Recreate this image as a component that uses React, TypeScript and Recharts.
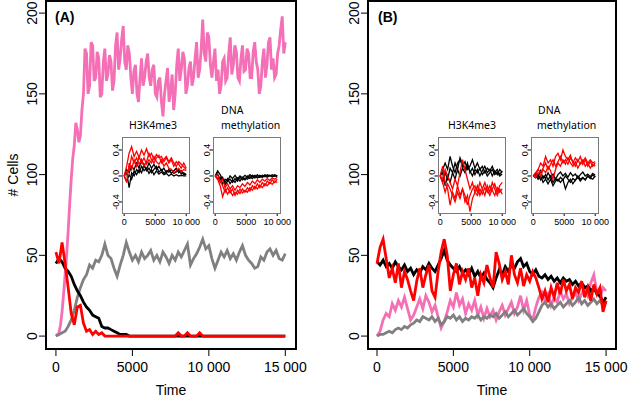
// Two-panel stochastic simulation figure: cell counts over time, with small
// H3K4me3 / DNA methylation insets. R-style frames and rotated y tick labels.
import { Line, LineChart, XAxis, YAxis } from "recharts";

const FONT = "'Liberation Sans', Arial, sans-serif";
const TITLE_FONT = "'Noto Sans', sans-serif";

const PINK = "#F46FB5";
const GREY = "#808080";
const RED = "#FF0000";
const BLACK = "#000000";

// ---- main panels ----
const mainTimes = [
  0, 200, 400, 600, 800, 1000, 1200, 1400, 1600, 1800,
  2000, 2200, 2400, 2600, 2800, 3000, 3200, 3400, 3600, 3800,
  4000, 4200, 4400, 4600, 4800, 5000, 5200, 5400, 5600, 5800,
  6000, 6200, 6400, 6600, 6800, 7000, 7200, 7400, 7600, 7800,
  8000, 8200, 8400, 8600, 8800, 9000, 9200, 9400, 9600, 9800,
  10000, 10200, 10400, 10600, 10800, 11000, 11200, 11400, 11600, 11800,
  12000, 12200, 12400, 12600, 12800, 13000, 13200, 13400, 13600, 13800,
  14000, 14200, 14400, 14600, 14800, 15000,
];

// pink in (A) is the noisiest trace, read at a finer step
const pinkTimesA = [
  0, 100, 200, 300, 400, 500, 600, 700, 800, 900,
  1000, 1100, 1200, 1300, 1400, 1500, 1600, 1700, 1800, 1900,
  2000, 2100, 2200, 2300, 2400, 2500, 2600, 2700, 2800, 2900,
  3000, 3100, 3200, 3300, 3400, 3500, 3600, 3700, 3800, 3900,
  4000, 4100, 4200, 4300, 4400, 4500, 4600, 4700, 4800, 4900,
  5000, 5100, 5200, 5300, 5400, 5500, 5600, 5700, 5800, 5900,
  6000, 6100, 6200, 6300, 6400, 6500, 6600, 6700, 6800, 6900,
  7000, 7100, 7200, 7300, 7400, 7500, 7600, 7700, 7800, 7900,
  8000, 8100, 8200, 8300, 8400, 8500, 8600, 8700, 8800, 8900,
  9000, 9100, 9200, 9300, 9400, 9500, 9600, 9700, 9800, 9900,
  10000, 10100, 10200, 10300, 10400, 10500, 10600, 10700, 10800, 10900,
  11000, 11100, 11200, 11300, 11400, 11500, 11600, 11700, 11800, 11900,
  12000, 12100, 12200, 12300, 12400, 12500, 12600, 12700, 12800, 12900,
  13000, 13100, 13200, 13300, 13400, 13500, 13600, 13700, 13800, 13900,
  14000, 14100, 14200, 14300, 14400, 14500, 14600, 14700, 14800, 14900,
  15000,
];
const pinkA = [
  0, 1, 2, 7, 15, 26, 38, 50, 65, 82,
  97, 110, 118, 132, 128, 120, 124, 140, 150, 178,
  175, 150, 155, 182, 180, 158, 160, 176, 172, 148,
  150, 170, 178, 158, 162, 174, 170, 152, 158, 180,
  188, 165, 172, 184, 192, 170, 165, 180, 175, 160,
  150, 164, 168, 150, 145, 160, 172, 155, 160, 170,
  175, 160, 155, 165, 168, 150, 148, 158, 160, 145,
  136, 150, 158, 166, 145, 152, 162, 140, 150, 168,
  178, 158, 165, 176, 172, 150, 155, 166, 170, 155,
  160, 172, 182, 160, 165, 178, 196, 175, 170, 188,
  185, 168, 160, 170, 178, 158, 165, 150, 155, 170,
  172, 158, 160, 175, 185, 162, 168, 180, 176, 160,
  158, 172, 180, 164, 165, 178, 175, 160, 160, 176,
  182, 170, 165, 150, 155, 170, 178, 160, 168, 182,
  185, 165, 172, 160, 162, 175, 180, 190, 198, 175,
  182,
];
const greyA = [
  0, 1, 2, 3, 6, 10, 16, 24, 30, 35,
  38, 44, 42, 47, 46, 50, 57, 50, 48, 42,
  37, 44, 50, 58, 52, 47, 50, 46, 52, 48,
  50, 53, 47, 50, 46, 52, 49, 45, 50, 47,
  52, 49, 53, 57, 44, 48, 51, 55, 60, 54,
  56, 48, 42, 47, 52, 49, 53, 48, 51, 47,
  52, 56, 50, 47, 45, 42, 43, 49, 47, 52,
  54, 50, 53, 48, 47, 51,
];
const blackA = [
  45, 48, 46, 42, 40, 37, 32, 28, 25, 21,
  18, 16, 13, 12, 11, 6, 5, 5, 4, 3,
  2, 1, 1, 1, 0, 0, 0, 0, 0, 0,
  0, 0, 0, 0, 0, 0, 0, 0, 0, 0,
  0, 0, 0, 0, 0, 0, 0, 0, 0, 0,
  0, 0, 0, 0, 0, 0, 0, 0, 0, 0,
  0, 0, 0, 0, 0, 0, 0, 0, 0, 0,
  0, 0, 0, 0, 0, 0,
];
const redA = [
  52, 45, 58, 45, 30, 14, 7, 18, 19, 8,
  3, 4, 1, 3, 1, 2, 0, 0, 0, 0,
  0, 0, 0, 0, 0, 0, 0, 0, 0, 0,
  0, 0, 0, 0, 0, 0, 0, 0, 0, 0,
  2, 0, 0, 2, 0, 0, 0, 2, 0, 0,
  0, 0, 0, 0, 0, 0, 0, 0, 0, 0,
  0, 0, 0, 0, 0, 0, 0, 0, 0, 0,
  0, 0, 0, 0, 0, 0,
];

const pinkB = [
  0, 3, 10, 14, 12, 20, 16, 22, 18, 24,
  17, 10, 13, 18, 23, 17, 25, 21, 15, 19,
  12, 5, 9, 15, 22, 18, 27, 19, 23, 14,
  20, 16, 22, 13, 18, 11, 17, 12, 16, 10,
  15, 19, 13, 17, 21, 14, 18, 25, 16, 22,
  13, 10, 18, 24, 27, 22, 26, 19, 24, 21,
  28, 23, 26, 20, 24, 27, 22, 26, 30, 25,
  33, 38, 27, 24, 30, 28,
];
const greyB = [
  0, 1, 1, 2, 3, 2, 4, 5, 4, 6,
  5, 7, 8, 10, 9, 12, 11, 10, 12, 9,
  11, 7, 9, 12, 11, 13, 10, 12, 9, 11,
  10, 12, 11, 13, 10, 12, 11, 13, 12, 14,
  11, 13, 15, 12, 14, 16, 13, 15, 17, 14,
  12, 9, 11, 15, 19, 21, 18, 20, 17, 19,
  21, 18, 20, 22, 19, 21, 24, 20, 22, 19,
  21, 23, 20, 22, 19, 21,
];
const blackB = [
  46, 44, 47, 43, 45, 42, 46, 43, 41, 44,
  40, 42, 38, 41, 39, 43, 41, 45, 42, 40,
  44, 48, 53, 47, 44, 42, 40, 43, 39, 41,
  38, 42, 37, 40, 36, 39, 35, 33, 30, 36,
  41, 38, 43, 40, 44, 42, 46, 48, 43, 45,
  40, 38, 41, 37, 36, 38, 35, 37, 34, 36,
  33, 36, 34, 35, 32, 34, 31, 33, 30, 31,
  28, 30, 26, 25, 21, 24,
];
const redB = [
  45, 55, 60, 48, 36, 42, 33, 45, 30, 40,
  35, 28, 22, 34, 42, 30, 38, 44, 28, 24,
  40, 52, 60, 50, 28, 38, 45, 32, 40, 35,
  42, 30, 36, 25, 38, 33, 44, 36, 30, 52,
  45, 35, 40, 32, 50, 38, 33, 42, 31, 38,
  34, 40, 36, 30, 23, 28, 21, 30, 24, 33,
  26, 35, 28, 32, 23, 30, 27, 34, 24, 30,
  22, 32, 26, 30, 15, 22,
];

const xTicks = [0, 5000, 10000, 15000];
const xTickLabels = ["0", "5000", "10 000", "15 000"];
const yTicks = [0, 50, 100, 150, 200];
const yTickLabels = ["0", "50", "100", "150", "200"];

// ---- insets ----
const insetTimes = [
  0, 400, 800, 1200, 1600, 2000, 2400, 2800, 3200, 3600, 4000, 4400, 4800,
  5200, 5600, 6000, 6400, 6800, 7200, 7600, 8000, 8400, 8800, 9200, 9600, 10000,
];
const insetXTicks = [0, 5000, 10000];
const insetXTickLabels = ["0", "5000", "10 000"];
const insetYTicks = [-0.4, 0, 0.4];
const insetYTickLabels = ["-0.4", "0.0", "0.4"];

// A: H3K4me3
const a1Red1 = [0, 0.15, 0.35, 0.45, 0.3, 0.38, 0.28, 0.4, 0.32, 0.42, 0.3, 0.35, 0.25,
  0.33, 0.28, 0.3, 0.22, 0.28, 0.2, 0.25, 0.15, 0.22, 0.18, 0.12, 0.2, 0.12];
const a1Red2 = [0, -0.1, 0.2, 0.1, 0.25, 0.15, 0.3, 0.2, 0.28, 0.18, 0.25, 0.2, 0.3,
  0.22, 0.18, 0.25, 0.15, 0.2, 0.12, 0.1, 0.05, 0.08, 0.12, 0.06, 0.1, 0.08];
const a1Red3 = [0, 0.05, 0.1, 0.3, 0.2, 0.28, 0.18, 0.25, 0.15, 0.22, 0.35, 0.25, 0.2,
  0.28, 0.32, 0.2, 0.26, 0.3, 0.22, 0.28, 0.2, 0.15, 0.22, 0.18, 0.14, 0.1];
const a1Black1 = [0, 0.05, -0.18, 0.05, 0, 0.1, 0.05, 0.15, 0.08, 0.12, 0.04, 0.1, 0.02,
  0.08, 0.03, 0.06, 0.02, 0.04, 0, 0.03, 0, 0.02, 0, 0.01, 0, 0];
const a1Black2 = [0, 0.1, 0.05, 0.15, 0.1, 0.2, 0.12, 0.25, 0.15, 0.1, 0.2, 0.12, 0.18,
  0.1, 0.15, 0.08, 0.12, 0.05, 0.1, 0.04, 0.08, 0.12, 0.05, 0.08, 0.02, 0.03];
const a1Black3 = [0, -0.08, 0.02, -0.05, 0.08, 0.02, 0.1, 0.05, 0.18, 0.08, 0.12, 0.05, 0.1,
  0.15, 0.06, 0.1, 0.04, 0.08, 0.06, 0.1, 0.04, 0.06, 0.1, 0.03, 0.05, 0.02];

// A: DNA methylation
const a2Red1 = [0, -0.05, -0.15, -0.32, -0.2, -0.28, -0.22, -0.3, -0.25, -0.28, -0.2, -0.26, -0.22,
  -0.25, -0.18, -0.22, -0.16, -0.2, -0.14, -0.18, -0.12, -0.15, -0.1, -0.13, -0.08, -0.1];
const a2Red2 = [0, 0.02, -0.08, -0.15, -0.25, -0.18, -0.26, -0.2, -0.3, -0.22, -0.27, -0.2, -0.25,
  -0.18, -0.23, -0.15, -0.2, -0.12, -0.18, -0.1, -0.15, -0.08, -0.12, -0.06, -0.1, -0.05];
const a2Red3 = [0, -0.03, -0.1, -0.05, -0.18, -0.12, -0.2, -0.15, -0.22, -0.15, -0.18, -0.12, -0.16,
  -0.1, -0.14, -0.08, -0.12, -0.06, -0.1, -0.05, -0.08, -0.04, -0.07, -0.03, -0.05, -0.02];
const a2Black1 = [0, 0.08, 0.02, -0.05, -0.1, -0.04, -0.12, -0.06, -0.1, -0.03, -0.08, -0.02, -0.06,
  0, -0.04, 0.01, -0.03, 0.02, -0.02, 0.01, -0.01, 0.02, 0, 0.02, 0, 0.01];
const a2Black2 = [0, -0.05, -0.02, -0.12, -0.05, -0.08, 0, -0.04, 0.01, -0.05, 0, -0.03, 0.01,
  -0.02, 0.02, -0.01, 0.01, -0.02, 0.01, -0.01, 0.02, 0, 0.01, -0.01, 0.02, 0];
const a2Black3 = [0, 0.03, -0.06, -0.02, -0.14, -0.08, -0.05, -0.1, -0.04, -0.08, -0.02, -0.06, -0.03,
  -0.05, -0.01, -0.04, 0, -0.03, -0.01, -0.02, 0, -0.02, 0.01, -0.01, 0, -0.01];

// B: H3K4me3
const b1Red1 = [0, 0.15, -0.1, -0.2, -0.45, -0.25, -0.35, -0.15, -0.3, -0.2, -0.4, -0.3, -0.55,
  -0.35, -0.25, -0.3, -0.2, -0.28, -0.18, -0.25, -0.15, -0.22, -0.3, -0.18, -0.25, -0.2];
const b1Red2 = [0, -0.05, 0.1, 0, -0.1, -0.2, -0.05, -0.15, 0.05, 0.25, 0.1, -0.05, -0.2,
  -0.1, -0.25, -0.15, -0.3, -0.2, -0.1, -0.22, -0.3, -0.2, -0.12, -0.25, -0.15, -0.1];
const b1Red3 = [0, -0.1, -0.25, -0.12, -0.2, -0.3, -0.4, -0.25, -0.35, -0.2, -0.3, -0.45, -0.3,
  -0.2, -0.15, -0.25, -0.1, -0.2, -0.3, -0.15, -0.25, -0.1, -0.2, -0.3, -0.2, -0.28];
const b1Black1 = [0, 0.1, 0.2, 0.1, 0.3, 0.15, 0.05, 0.2, 0.25, 0.15, 0.22, 0.1, 0.15,
  0.25, 0.12, 0.2, 0.1, 0.15, 0.05, 0.12, 0.08, 0.15, 0.05, 0.1, 0.02, 0.08];
const b1Black2 = [0, -0.1, 0.05, -0.05, 0.12, 0.05, 0.2, 0.1, 0.28, 0.18, 0.1, 0.2, 0.05,
  0.12, 0.02, 0.1, 0, 0.08, 0.15, 0.05, 0.1, 0, 0.08, 0.02, 0.1, 0.05];
const b1Black3 = [0, 0.05, -0.15, 0, -0.1, 0.05, -0.05, 0.1, 0, 0.12, 0.05, 0.15, 0.08,
  0, 0.1, 0.05, 0.12, 0.02, 0.08, 0, 0.05, 0.1, 0.02, 0.06, 0, 0.03];

// B: DNA methylation
const b2Red1 = [0, 0.05, 0.1, 0.2, 0.15, 0.3, 0.2, 0.25, 0.15, 0.3, 0.35, 0.25, 0.4,
  0.3, 0.25, 0.32, 0.2, 0.28, 0.22, 0.3, 0.18, 0.25, 0.15, 0.22, 0.15, 0.2];
const b2Red2 = [0, -0.02, 0.05, 0, 0.1, 0.05, 0.15, 0.08, -0.05, 0.1, 0.2, 0.15, 0.25,
  0.18, 0.28, 0.2, 0.15, 0.22, 0.12, 0.2, 0.25, 0.15, 0.2, 0.12, 0.18, 0.15];
const b2Red3 = [0, 0.02, 0.1, 0.05, 0.12, 0.2, 0.1, 0.18, 0.25, 0.15, 0.22, 0.3, 0.2,
  0.25, 0.18, 0.28, 0.22, 0.15, 0.25, 0.18, 0.22, 0.28, 0.2, 0.25, 0.2, 0.22];
const b2Black1 = [0, 0.02, -0.05, 0, -0.1, -0.05, -0.12, -0.05, -0.15, -0.08, -0.05, -0.1, -0.05,
  -0.2, -0.1, -0.05, -0.12, -0.06, -0.02, -0.08, -0.03, -0.06, 0, -0.04, 0.02, -0.02];
const b2Black2 = [0, -0.03, 0.02, -0.06, 0, -0.04, 0.05, -0.02, 0.03, -0.05, 0.02, 0.06, 0,
  0.04, -0.02, 0.05, 0, 0.03, -0.03, 0.02, 0.06, 0, 0.03, -0.01, 0.04, 0.01];
const b2Black3 = [0, 0.04, -0.02, 0.08, -0.04, 0.02, -0.06, 0, -0.1, -0.04, -0.08, -0.02, -0.06,
  0, -0.05, -0.1, -0.04, -0.07, 0, -0.05, -0.02, -0.06, 0, -0.03, -0.05, 0];

function mainRows(pink: number[] | null, grey: number[], black: number[], red: number[]) {
  return mainTimes.map((t, i) => ({
    t,
    pink: pink ? pink[i] : undefined,
    grey: grey[i],
    black: black[i],
    red: red[i],
  }));
}

function insetRows(r: number[][], b: number[][]) {
  return insetTimes.map((t, i) => ({
    t,
    r1: r[0][i], r2: r[1][i], r3: r[2][i],
    b1: b[0][i], b2: b[1][i], b3: b[2][i],
  }));
}

const rowsA = mainRows(null, greyA, blackA, redA);
const pinkRowsA = pinkTimesA.map((t, i) => ({ t, pink: pinkA[i] }));
const rowsB = mainRows(pinkB, greyB, blackB, redB);
const rowsA1 = insetRows([a1Red1, a1Red2, a1Red3], [a1Black1, a1Black2, a1Black3]);
const rowsA2 = insetRows([a2Red1, a2Red2, a2Red3], [a2Black1, a2Black2, a2Black3]);
const rowsB1 = insetRows([b1Red1, b1Red2, b1Red3], [b1Black1, b1Black2, b1Black3]);
const rowsB2 = insetRows([b2Red1, b2Red2, b2Red3], [b2Black1, b2Black2, b2Black3]);

function xTick(ticks: number[], labels: string[], fontSize: number, dy: number) {
  return (props: any) => {
    const { x, y, payload } = props;
    const i = ticks.indexOf(payload.value);
    return (
      <text x={x} y={y + dy} textAnchor="middle" fontSize={fontSize} fontFamily={FONT} fill="#000">
        {labels[i]}
      </text>
    );
  };
}

function yTick(ticks: number[], labels: string[], fontSize: number) {
  return (props: any) => {
    const { x, y, payload } = props;
    const i = ticks.indexOf(payload.value);
    return (
      <text
        transform={`translate(${x},${y}) rotate(-90)`}
        textAnchor="middle"
        fontSize={fontSize}
        fontFamily={FONT}
        fill="#000"
      >
        {labels[i]}
      </text>
    );
  };
}

function MainPanel({
  left,
  width,
  plotWidth,
  domain,
  data,
  pinkData,
}: {
  left: number;
  width: number;
  plotWidth: number;
  domain: [number, number];
  data: any[];
  pinkData?: any[];
}) {
  const lw = 2.8;
  return (
    <div style={{ position: "absolute", left, top: 0 }}>
      <LineChart
        width={width}
        height={400}
        data={data}
        margin={{ top: 1, right: width - 46 - plotWidth, bottom: 0, left: 0 }}
      >
        <XAxis
          type="number"
          dataKey="t"
          domain={domain}
          allowDataOverflow
          ticks={xTicks}
          interval={0}
          height={51}
          tickSize={7}
          tickMargin={2}
          axisLine={false}
          tickLine={{ stroke: "#000" }}
          tick={xTick(xTicks, xTickLabels, 14, 14)}
        />
        <YAxis
          type="number"
          domain={[-8, 207.5]}
          allowDataOverflow
          ticks={yTicks}
          interval={0}
          width={46}
          tickSize={7}
          tickMargin={2}
          axisLine={false}
          tickLine={{ stroke: "#000" }}
          tick={yTick(yTicks, yTickLabels, 14)}
        />
        <Line data={pinkData} dataKey="pink" stroke={PINK} strokeWidth={lw} dot={false} isAnimationActive={false} />
        <Line dataKey="grey" stroke={GREY} strokeWidth={lw} dot={false} isAnimationActive={false} />
        <Line dataKey="black" stroke={BLACK} strokeWidth={lw} dot={false} isAnimationActive={false} />
        <Line dataKey="red" stroke={RED} strokeWidth={lw} dot={false} isAnimationActive={false} />
      </LineChart>
    </div>
  );
}

function Inset({ left, data }: { left: number; data: any[] }) {
  const yw = 30;
  return (
    <div style={{ position: "absolute", left: left - yw, top: 132 }}>
      <LineChart width={yw + 67 + 16} height={100} data={data} margin={{ top: 5, right: 16, bottom: 0, left: 0 }}>
        <XAxis
          type="number"
          dataKey="t"
          domain={[-350, 10450]}
          allowDataOverflow
          ticks={insetXTicks}
          interval={0}
          height={19}
          tickSize={3}
          tickMargin={0}
          axisLine={false}
          tickLine={{ stroke: "#000" }}
          tick={xTick(insetXTicks, insetXTickLabels, 9, 9)}
        />
        <YAxis
          type="number"
          domain={[-0.57, 0.6]}
          allowDataOverflow
          ticks={insetYTicks}
          interval={0}
          width={yw}
          tickSize={3}
          tickMargin={0}
          axisLine={false}
          tickLine={{ stroke: "#000" }}
          tick={yTick(insetYTicks, insetYTickLabels, 9)}
        />
        {["b1", "b2", "b3"].map((k) => (
          <Line key={k} dataKey={k} stroke={BLACK} strokeWidth={1.3} dot={false} isAnimationActive={false} />
        ))}
        {["r1", "r2", "r3"].map((k) => (
          <Line key={k} dataKey={k} stroke={RED} strokeWidth={1.3} dot={false} isAnimationActive={false} />
        ))}
      </LineChart>
    </div>
  );
}

export default function App() {
  const insetLefts = [122, 213, 438, 531];
  return (
    <div style={{ position: "absolute", left: 0, top: 0, width: 633, height: 400, background: "#fff" }}>
      <MainPanel left={0} width={310} plotWidth={250} domain={[-650, 15700]} data={rowsA} pinkData={pinkRowsA} />
      <MainPanel left={322} width={311} plotWidth={248} domain={[-590, 15650]} data={rowsB} />
      <Inset left={122} data={rowsA1} />
      <Inset left={213} data={rowsA2} />
      <Inset left={438} data={rowsB1} />
      <Inset left={531} data={rowsB2} />
      <svg
        width={633}
        height={400}
        style={{ position: "absolute", left: 0, top: 0, pointerEvents: "none" }}
      >
        <rect x={46} y={1} width={250} height={348} fill="none" stroke="#000" strokeWidth={2} />
        <rect x={368} y={1} width={248} height={348} fill="none" stroke="#000" strokeWidth={2} />
        {insetLefts.map((l) => (
          <rect key={l} x={l + 0.5} y={137.5} width={67} height={76} fill="none" stroke="#7a7a7a" strokeWidth={1} />
        ))}
        <text x={55} y={22} fontFamily={FONT} fontSize={14} fontWeight="bold">(A)</text>
        <text x={378} y={22} fontFamily={FONT} fontSize={14} fontWeight="bold">(B)</text>
        <text x={171} y={395} textAnchor="middle" fontFamily={FONT} fontSize={14}>Time</text>
        <text x={492} y={395} textAnchor="middle" fontFamily={FONT} fontSize={14}>Time</text>
        <text transform="translate(18,175) rotate(-90)" textAnchor="middle" fontFamily={FONT} fontSize={14}>
          # Cells
        </text>
        <text x={153} y={129} textAnchor="middle" fontFamily={TITLE_FONT} fontSize={10.5}>H3K4me3</text>
        <text x={221} y={114} fontFamily={TITLE_FONT} fontSize={10.5}>DNA</text>
        <text x={221} y={129} fontFamily={TITLE_FONT} fontSize={10.5}>methylation</text>
        <text x={472} y={129} textAnchor="middle" fontFamily={TITLE_FONT} fontSize={10.5}>H3K4me3</text>
        <text x={538} y={114} fontFamily={TITLE_FONT} fontSize={10.5}>DNA</text>
        <text x={537} y={129} fontFamily={TITLE_FONT} fontSize={10.5}>methylation</text>
      </svg>
    </div>
  );
}
